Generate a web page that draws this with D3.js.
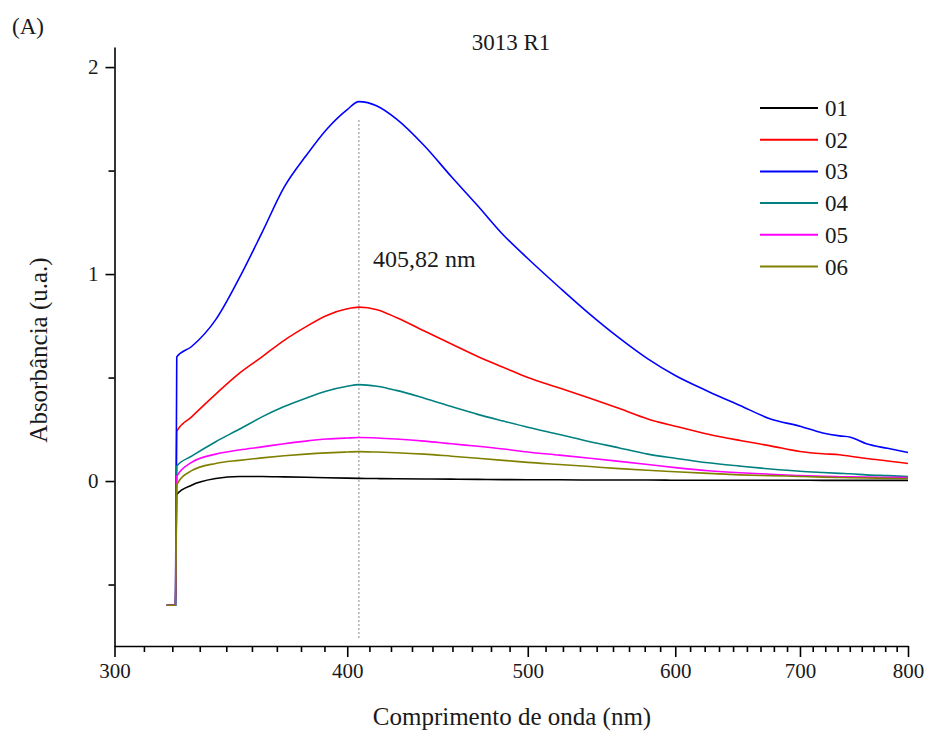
<!DOCTYPE html>
<html>
<head>
<meta charset="utf-8">
<script src="https://cdn.jsdelivr.net/npm/d3@7"></script>
<style>
  body { margin: 0; background: #fff; }
</style>
</head>
<body>
<div id="chart"></div>
<script>
// wavelengths (nm) shared by every spectrum
const wavelengths = [320, 323.5, 324, 330, 340, 350, 360, 370, 380, 390, 400, 405.8, 415, 425, 440, 455, 470, 485, 500,
    520, 540, 560, 580, 600, 625, 650, 675, 700, 720, 735, 745, 760, 780, 800];

const seriesNames = ['01', '02', '03', '04', '05', '06'];
const seriesColors = ['#000000', '#ff0000', '#0000ff', '#008080', '#ff00ff', '#808000'];

const s01 = [-0.6, -0.6, -0.065, -0.02, 0.012, 0.022, 0.022, 0.02, 0.018, 0.016, 0.014, 0.013, 0.012, 0.011, 0.01, 0.009, 0.008,
    0.007, 0.006, 0.006, 0.005, 0.005, 0.005, 0.004, 0.004, 0.004, 0.004, 0.004, 0.003, 0.003, 0.003, 0.003, 0.003, 0.003];
const s02 = [-0.6, -0.6, 0.24, 0.31, 0.42, 0.52, 0.6, 0.68, 0.745, 0.8, 0.832, 0.84, 0.828, 0.79, 0.725, 0.662, 0.602,
    0.55, 0.5, 0.45, 0.4, 0.35, 0.3, 0.265, 0.226, 0.196, 0.17, 0.143, 0.132, 0.127, 0.12, 0.109, 0.097, 0.085];
const s03 = [-0.6, -0.6, 0.6, 0.65, 0.78, 0.98, 1.2, 1.42, 1.57, 1.7, 1.795, 1.833, 1.812, 1.75, 1.62, 1.47, 1.33,
    1.19, 1.075, 0.935, 0.805, 0.69, 0.59, 0.51, 0.433, 0.365, 0.3, 0.265, 0.232, 0.218, 0.212, 0.18, 0.158, 0.138];
const s04 = [-0.6, -0.6, 0.072, 0.12, 0.19, 0.25, 0.31, 0.36, 0.4, 0.435, 0.458, 0.466, 0.458, 0.438, 0.4, 0.36, 0.322,
    0.29, 0.26, 0.225, 0.19, 0.16, 0.13, 0.11, 0.088, 0.072, 0.058, 0.047, 0.041, 0.037, 0.035, 0.03, 0.026, 0.022];
const s05 = [-0.6, -0.6, 0.023, 0.09, 0.13, 0.15, 0.165, 0.18, 0.193, 0.203, 0.208, 0.21, 0.208, 0.203, 0.193, 0.18, 0.168,
    0.155, 0.14, 0.125, 0.11, 0.095, 0.08, 0.065, 0.05, 0.04, 0.033, 0.026, 0.023, 0.021, 0.02, 0.019, 0.018, 0.017];
const s06 = [-0.6, -0.6, -0.017, 0.05, 0.085, 0.1, 0.112, 0.122, 0.13, 0.136, 0.14, 0.142, 0.14, 0.137, 0.13, 0.12, 0.11,
    0.1, 0.09, 0.08, 0.07, 0.06, 0.052, 0.045, 0.037, 0.03, 0.026, 0.022, 0.019, 0.017, 0.016, 0.015, 0.013, 0.012];
const seriesValues = [s01, s02, s03, s04, s05, s06];

const xMajorTicks = [300, 400, 500, 600, 700, 800];
const yMajorTicks = [0, 1, 2];
const yMinorTicks = [-0.5, 0.5, 1.5];
const peakWavelength = 405.82;
const peakLabel = '405,82 nm';

const serif = 'Liberation Serif, Tinos, Times New Roman, Times, DejaVu Serif, serif';

const W = 925, H = 731;
const svg = d3.select('#chart').append('svg').attr('width', W).attr('height', H)
    .attr('font-family', serif);

const x = d3.scaleLog().domain([300, 800]).range([114.5, 908]);
const y = d3.scaleLinear().domain([-0.797, 2.097]).range([646, 47]);

// minor x ticks: 8 between each pair of majors
const xMinorTicks = [];
for (let i = 0; i < xMajorTicks.length - 1; i++) {
    const a = xMajorTicks[i], b = xMajorTicks[i + 1];
    for (let k = 1; k < 9; k++) xMinorTicks.push(a + (b - a) * k / 9);
}

// x axis
svg.append('g').attr('transform', 'translate(0,646)')
    .call(d3.axisBottom(x).tickValues(xMinorTicks).tickSize(6).tickSizeOuter(0).tickFormat(''))
    .call(g => g.select('.domain').remove());
const xAxis = svg.append('g').attr('transform', 'translate(0,646)')
    .call(d3.axisBottom(x).tickValues(xMajorTicks).tickSize(11).tickSizeOuter(0).tickPadding(6).tickFormat(d3.format('d')));
xAxis.attr('font-family', serif).attr('font-size', 21);
xAxis.selectAll('text').attr('fill', '#1a1a1a');

// y axis
svg.append('g').attr('transform', 'translate(114.5,0)')
    .call(d3.axisLeft(y).tickValues(yMinorTicks).tickSize(6).tickSizeOuter(0).tickFormat(''))
    .call(g => g.select('.domain').remove());
const yAxis = svg.append('g').attr('transform', 'translate(114.5,0)')
    .call(d3.axisLeft(y).tickValues(yMajorTicks).tickSize(9).tickSizeOuter(0).tickPadding(7).tickFormat(d3.format('d')));
yAxis.attr('font-family', serif).attr('font-size', 21);
yAxis.selectAll('text').attr('fill', '#1a1a1a');

svg.selectAll('.domain, .tick line').attr('stroke', '#000').attr('stroke-width', 1.6);

// peak marker
svg.append('line')
    .attr('x1', x(peakWavelength)).attr('x2', x(peakWavelength))
    .attr('y1', 120).attr('y2', 640)
    .attr('stroke', '#8a8a8a').attr('stroke-width', 1)
    .attr('stroke-dasharray', '2,2');

// spectra
const line = d3.line()
    .x((d, i) => x(wavelengths[i]))
    .y(d => y(d))
    .curve(d3.curveMonotoneX);

seriesValues.forEach((vals, i) => {
    svg.append('path')
        .datum(vals)
        .attr('fill', 'none')
        .attr('stroke', seriesColors[i])
        .attr('stroke-width', 1.6)
        .attr('d', line);
});

svg.append('text').attr('x', 373).attr('y', 267).attr('font-size', 24).attr('fill', '#1a1a1a').text(peakLabel);

// legend
const legend = svg.append('g').attr('transform', 'translate(760,108)');
seriesNames.forEach((name, i) => {
    const row = legend.append('g').attr('transform', `translate(0,${i * 31.7})`);
    row.append('line').attr('x1', 0).attr('x2', 58).attr('y1', 0).attr('y2', 0)
        .attr('stroke', seriesColors[i]).attr('stroke-width', 2);
    row.append('text').attr('x', 65).attr('y', 8).attr('font-size', 23).attr('fill', '#1a1a1a').text(name);
});

// titles
svg.append('text').attr('x', 511).attr('y', 50).attr('text-anchor', 'middle').attr('font-size', 23)
    .attr('fill', '#1a1a1a').text('3013 R1');
svg.append('text').attr('x', 12).attr('y', 34).attr('font-size', 23).attr('fill', '#1a1a1a').text('(A)');
svg.append('text').attr('x', 512).attr('y', 725).attr('text-anchor', 'middle').attr('font-size', 25)
    .attr('fill', '#1a1a1a').text('Comprimento de onda (nm)');
svg.append('text').attr('transform', 'translate(47,350) rotate(-90)').attr('text-anchor', 'middle')
    .attr('font-size', 25).attr('fill', '#1a1a1a').text('Absorbância (u.a.)');
</script>
</body>
</html>
